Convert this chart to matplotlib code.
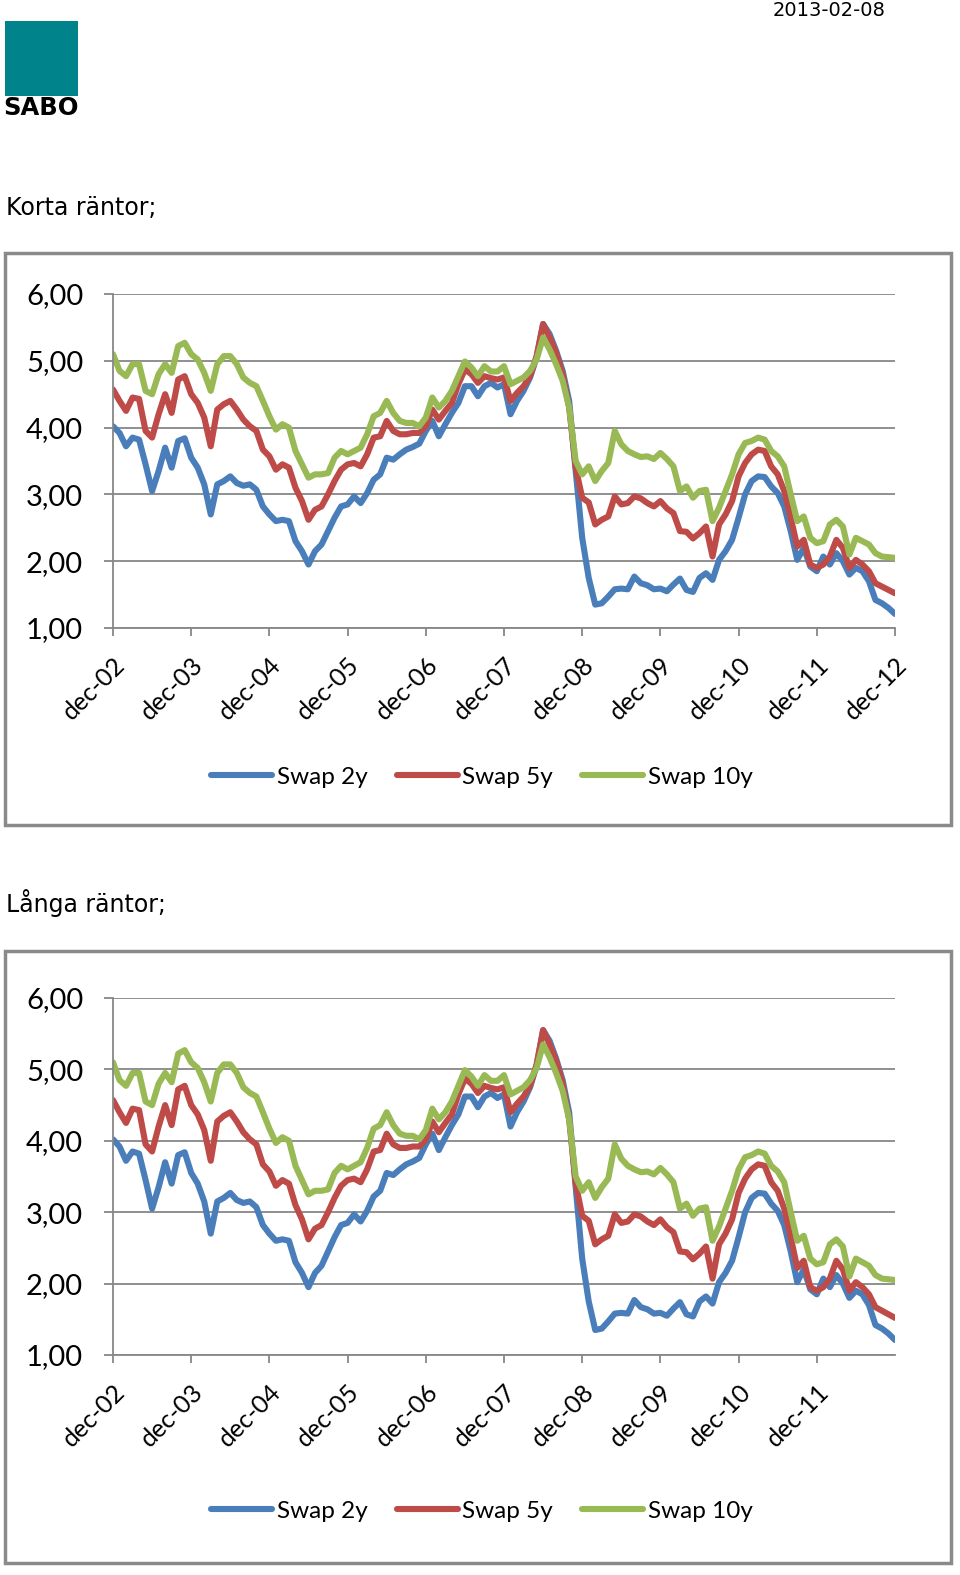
import numpy as np
import matplotlib
matplotlib.use('Agg')
import matplotlib.pyplot as plt
from matplotlib.patches import Rectangle

# månadsdata dec-02 .. dec-12
swap_2y = [4.02, 3.92, 3.72, 3.85, 3.82, 3.45, 3.05, 3.35, 3.70, 3.40, 3.80, 3.84,
           3.55, 3.40, 3.15, 2.70, 3.15, 3.20, 3.27, 3.17, 3.13, 3.15, 3.07, 2.82,
           2.70, 2.60, 2.62, 2.60, 2.30, 2.15, 1.95, 2.15, 2.25, 2.45, 2.65, 2.82,
           2.85, 2.97, 2.87, 3.02, 3.22, 3.30, 3.55, 3.52, 3.60, 3.67, 3.71, 3.76,
           3.95, 4.10, 3.87, 4.05, 4.22, 4.37, 4.62, 4.62, 4.47, 4.62, 4.67, 4.60,
           4.65, 4.20, 4.40, 4.55, 4.75, 5.05, 5.55, 5.40, 5.15, 4.85, 4.40, 3.35,
           2.35, 1.75, 1.35, 1.37, 1.47, 1.58, 1.59, 1.58, 1.77, 1.67, 1.64, 1.58,
           1.59, 1.55, 1.65, 1.74, 1.57, 1.54, 1.75, 1.82, 1.72, 2.02, 2.15, 2.32,
           2.65, 3.00, 3.20, 3.27, 3.26, 3.12, 3.02, 2.82, 2.45, 2.02, 2.20, 1.92,
           1.85, 2.07, 1.95, 2.12, 2.00, 1.80, 1.90, 1.85, 1.70, 1.42, 1.37, 1.30,
           1.21]
swap_5y = [4.57, 4.40, 4.25, 4.45, 4.43, 3.95, 3.85, 4.20, 4.50, 4.22, 4.72, 4.77,
           4.50, 4.37, 4.15, 3.72, 4.27, 4.35, 4.40, 4.27, 4.12, 4.02, 3.95, 3.67,
           3.57, 3.37, 3.45, 3.40, 3.10, 2.90, 2.62, 2.77, 2.82, 3.00, 3.20, 3.37,
           3.45, 3.47, 3.42, 3.60, 3.85, 3.87, 4.10, 3.95, 3.90, 3.90, 3.92, 3.92,
           4.02, 4.27, 4.12, 4.25, 4.37, 4.65, 4.87, 4.80, 4.67, 4.77, 4.74, 4.72,
           4.75, 4.40, 4.52, 4.62, 4.77, 5.07, 5.55, 5.35, 5.12, 4.80, 4.30, 3.40,
           2.95, 2.88, 2.55, 2.62, 2.67, 2.97, 2.85, 2.87, 2.97, 2.94, 2.87, 2.82,
           2.90, 2.79, 2.72, 2.45, 2.44, 2.34, 2.42, 2.52, 2.07, 2.55, 2.70, 2.90,
           3.27, 3.47, 3.60, 3.67, 3.65, 3.42, 3.30, 3.05, 2.65, 2.22, 2.32, 1.95,
           1.90, 1.95, 2.07, 2.32, 2.20, 1.90, 2.02, 1.95, 1.85, 1.67, 1.62, 1.57,
           1.52]
swap_10y = [5.10, 4.85, 4.77, 4.95, 4.95, 4.55, 4.50, 4.80, 4.95, 4.82, 5.22, 5.27,
            5.10, 5.02, 4.82, 4.55, 4.95, 5.07, 5.07, 4.95, 4.75, 4.67, 4.62, 4.40,
            4.17, 3.97, 4.05, 4.00, 3.65, 3.45, 3.25, 3.30, 3.30, 3.32, 3.55, 3.65,
            3.60, 3.65, 3.70, 3.90, 4.17, 4.22, 4.40, 4.22, 4.10, 4.07, 4.07, 4.02,
            4.15, 4.45, 4.30, 4.40, 4.55, 4.77, 4.99, 4.90, 4.77, 4.92, 4.84, 4.84,
            4.92, 4.65, 4.70, 4.75, 4.85, 5.02, 5.35, 5.17, 4.95, 4.70, 4.30, 3.50,
            3.30, 3.42, 3.20, 3.35, 3.47, 3.95, 3.75, 3.65, 3.60, 3.56, 3.57, 3.53,
            3.62, 3.53, 3.42, 3.05, 3.12, 2.95, 3.05, 3.07, 2.60, 2.80, 3.05, 3.30,
            3.60, 3.77, 3.80, 3.85, 3.82, 3.65, 3.57, 3.42, 3.00, 2.60, 2.67, 2.35,
            2.27, 2.30, 2.55, 2.62, 2.52, 2.10, 2.35, 2.30, 2.25, 2.12, 2.07, 2.06,
            2.05]

year_labels = ['dec-02', 'dec-03', 'dec-04', 'dec-05', 'dec-06', 'dec-07',
               'dec-08', 'dec-09', 'dec-10', 'dec-11', 'dec-12']
y_ticks = [1, 2, 3, 4, 5, 6]
series_names = ['Swap 2y', 'Swap 5y', 'Swap 10y']
colors = ['#4A7EBB', '#BE4B48', '#98B954']

W, H = 960, 1575
narrow = ['Liberation Sans Narrow', 'DejaVu Sans']
grid_c = '#878787'

fig = plt.figure(figsize=(W / 100, H / 100), dpi=100)


def fx(px):
    return px / W


def fy(py):
    return 1 - py / H


# logga och datum
fig.patches.append(Rectangle((fx(5), fy(96)), fx(73), 75 / H, transform=fig.transFigure,
                             facecolor='#00838A', edgecolor='none'))
fig.text(fx(3), fy(108), 'SABO', fontsize=17.5, fontweight='heavy', family='DejaVu Sans',
         va='center', ha='left', color='black')
fig.text(fx(885), fy(10), '2013-02-08', fontsize=14, family=narrow, ha='right', va='center')


def chart(box_top, box_bottom, plot_top, plot_bottom, n_labels, title, title_y, leg_y):
    fig.text(fx(6), fy(title_y), title, fontsize=17, family=narrow, ha='left', va='center')
    fig.patches.append(Rectangle((fx(5), fy(box_bottom)), fx(946), (box_bottom - box_top) / H,
                                 transform=fig.transFigure, facecolor='none',
                                 edgecolor='#8a8a8a', lw=2.5))
    ax = fig.add_axes([fx(113), fy(plot_bottom), fx(782), (plot_bottom - plot_top) / H])
    ax.patch.set_alpha(0)
    x = np.arange(len(swap_2y))
    lines = []
    for vals, name, c in zip([swap_2y, swap_5y, swap_10y], series_names, colors):
        l, = ax.plot(x, vals, color=c, lw=4.4, label=name, solid_capstyle='round',
                     solid_joinstyle='round')
        lines.append(l)
    ax.set_xlim(0, 120)
    ax.set_ylim(1, 6)
    ax.set_yticks(y_ticks)
    ax.set_yticklabels([f'{v:.2f}'.replace('.', ',') for v in y_ticks],
                       fontsize=21, family='Lato')
    ax.set_xticks(np.arange(n_labels) * 12)
    ax.set_xticklabels(year_labels[:n_labels], rotation=45, ha='right', rotation_mode='anchor',
                       fontsize=18, family='Lato')
    ax.grid(axis='y', color=grid_c, lw=1.3)
    ax.set_axisbelow(True)
    for s in ['top', 'right']:
        ax.spines[s].set_visible(False)
    for s in ['left', 'bottom']:
        ax.spines[s].set_color(grid_c)
        ax.spines[s].set_linewidth(1.3)
    ax.tick_params(axis='y', length=6.5, color=grid_c, width=1.3, pad=15)
    ax.tick_params(axis='x', length=6, color=grid_c, width=1.3, pad=12)
    fig.legend(handles=lines, loc='center', bbox_to_anchor=(fx(482), fy(leg_y)), ncol=3,
               frameon=False, prop={'family': 'Lato', 'size': 17.5}, handlelength=2.5,
               handletextpad=0.2, columnspacing=1.2)
    return ax


chart(253, 825, 294, 628, 11, 'Korta räntor;', 208, 777)
chart(951, 1563, 998, 1355, 10, 'Långa räntor;', 903, 1511)

fig.savefig('out.png', dpi=100)
